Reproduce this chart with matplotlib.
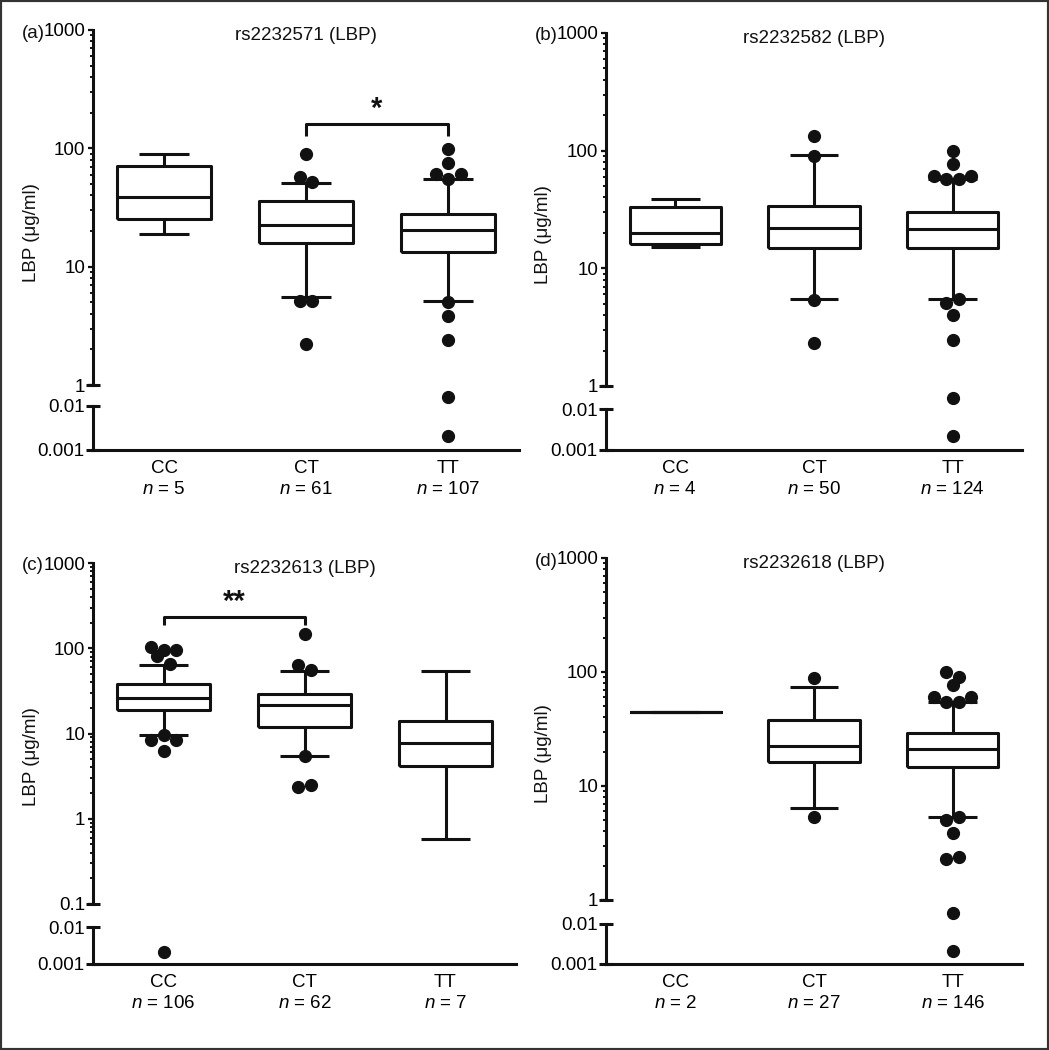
import numpy as np
import matplotlib
matplotlib.use('Agg')
import matplotlib.pyplot as plt
from matplotlib.ticker import FixedLocator, LogLocator, FuncFormatter, NullFormatter, NullLocator
from matplotlib.patches import Rectangle

plt.rcParams['font.family'] = ['Liberation Sans', 'DejaVu Sans']
plt.rcParams['mathtext.fontset'] = 'custom'
plt.rcParams['mathtext.it'] = 'Liberation Sans:italic'
plt.rcParams['mathtext.rm'] = 'Liberation Sans'

genotypes = ['CC', 'CT', 'TT']

# (a) rs2232571
a_n = [5, 61, 107]
a_whislo = [18.7, 5.57, 5.15]
a_q1 = [25.4, 15.8, 13.2]
a_med = [38.5, 22.5, 20.5]
a_q3 = [70.8, 35.8, 27.9]
a_whishi = [89, 50.5, 54.6]
a_out = [[],
         [90, 57, 51.7, 5.15, 5.15, 2.24],
         [99.4, 75, 60.2, 60.2, 55.3, 5.0, 3.85, 2.39, 0.016, 0.0021]]

# (b) rs2232582
b_n = [4, 50, 124]
b_whislo = [15.3, 5.46, 5.53]
b_q1 = [16.1, 15.0, 14.8]
b_med = [19.9, 21.9, 21.6]
b_q3 = [33.4, 34.1, 30.3]
b_whishi = [39.1, 91.4, 56.9]
b_out = [[],
         [134, 90.5, 5.4, 2.34],
         [99.6, 76.6, 61, 61, 56.9, 56.9, 5.5, 5.1, 4.02, 2.46, 0.019, 0.0022]]

# (c) rs2232613
c_n = [106, 62, 7]
c_whislo = [9.6, 5.5, 0.578]
c_q1 = [18.9, 11.9, 4.16]
c_med = [25.9, 21.6, 7.67]
c_q3 = [38.1, 29.0, 14.0]
c_whishi = [63.6, 54.0, 54.5]
c_out = [[104, 96, 95, 81.8, 65.3, 9.6, 8.4, 8.4, 6.3, 0.0021],
         [146, 63.6, 55.6, 5.5, 2.49, 2.34],
         []]

# (d) rs2232618
d_n = [2, 27, 146]
d_whislo = [44.9, 6.37, 5.38]
d_q1 = [44.9, 16.1, 14.6]
d_med = [44.9, 22.6, 21.2]
d_q3 = [44.9, 37.7, 29.4]
d_whishi = [44.9, 73.8, 54.2]
d_out = [[],
         [89, 5.31],
         [99.4, 91, 76.9, 60, 60, 54.9, 54.9, 5.3, 5.0, 3.9, 2.39, 2.27, 0.019, 0.0021]]

titles = ['rs2232571 (LBP)', 'rs2232582 (LBP)', 'rs2232613 (LBP)', 'rs2232618 (LBP)']
letters = ['(a)', '(b)', '(c)', '(d)']
upper_min = [1, 1, 0.1, 1]
# significance: (group i, group j, label) per panel
signif = [(1, 2, '*'), None, (0, 1, '**'), None]

panels = [
    (a_n, a_whislo, a_q1, a_med, a_q3, a_whishi, a_out),
    (b_n, b_whislo, b_q1, b_med, b_q3, b_whishi, b_out),
    (c_n, c_whislo, c_q1, c_med, c_q3, c_whishi, c_out),
    (d_n, d_whislo, d_q1, d_med, d_q3, d_whishi, d_out),
]

# pixel layout: left, right, upper top, upper bottom, lower top, lower bottom
W, H = 1049, 1050
layout = [
    (93, 519, 30, 385, 406, 450),
    (606, 1022, 33, 386, 409, 450),
    (93, 516, 563, 904, 927, 964),
    (606, 1022, 558, 900, 924, 964),
]

k = '#111111'
lw = 2.2
fs = 13.5

fig = plt.figure(figsize=(W / 100, H / 100), dpi=100)


def add_ax(l, r, t, b):
    return fig.add_axes([l / W, 1 - b / H, (r - l) / W, (b - t) / H])


def spread_points(ax_hi, ax_lo, split, xpos, vals, med, step_px=12.5, row_px=8.6):
    # simple row-based spreading of outlier dots (like Prism's scatter)
    xs, ys, axs = [], [], []
    for side in (1, -1):
        sel = [v for v in vals if (v > med) == (side > 0)]
        sel.sort(key=lambda v: -abs(np.log10(v / med)))
        rows = []
        for v in sel:
            ax = ax_hi if v >= split else ax_lo
            py = ax.transData.transform((xpos, v))[1]
            if rows and abs(py - rows[-1][0]) < row_px:
                rows[-1][1].append((v, ax))
            else:
                rows.append([py, [(v, ax)]])
        for py, members in rows:
            n = len(members)
            order = []
            lo, hi = 0, n - 1
            while lo <= hi:
                order.append(lo)
                if hi != lo:
                    order.append(hi)
                lo += 1
                hi -= 1
            for (v, ax), si in zip(members, order):
                ppx = ax.transData.transform((1, 1))[0] - ax.transData.transform((0, 1))[0]
                xs.append(xpos + (si - (n - 1) / 2) * step_px / ppx)
                ys.append(v)
                axs.append(ax)
    return xs, ys, axs


for p, (n, wlo, q1, med, q3, whi, outl) in enumerate(panels):
    l, r, t, b, lt, lb = layout[p]
    ax = add_ax(l, r, t, b)
    axl = add_ax(l, r, lt, lb)

    for a in (ax, axl):
        a.set_yscale('log')
        a.set_xlim(-0.5, 2.5)
        a.spines['top'].set_visible(False)
        a.spines['right'].set_visible(False)
        a.spines['left'].set_linewidth(lw)
        a.spines['bottom'].set_linewidth(lw)
        a.spines['left'].set_color(k)
        a.spines['bottom'].set_color(k)
        a.patch.set_alpha(0)

    ax.set_ylim(upper_min[p], 1000)
    axl.set_ylim(0.001, 0.01)

    stats = []
    for i in range(3):
        stats.append(dict(med=med[i], q1=q1[i], q3=q3[i], whislo=wlo[i], whishi=whi[i], fliers=[]))
    props = dict(color=k, linewidth=lw, solid_capstyle='butt')
    ax.bxp(stats, positions=[0, 1, 2], widths=0.66, capwidths=0.35, showfliers=False,
           boxprops=props, whiskerprops=props, capprops=props,
           medianprops=props, manage_ticks=False)

    # upper axis ticks
    ax.spines['bottom'].set_visible(False)
    ax.xaxis.set_major_locator(NullLocator())
    decades = [10.0 ** e for e in range(int(round(np.log10(upper_min[p]))), 4)]
    ax.yaxis.set_major_locator(FixedLocator(decades))
    ax.yaxis.set_minor_locator(LogLocator(base=10, subs=np.arange(2, 10)))
    ax.yaxis.set_major_formatter(FuncFormatter(lambda v, pos: f'{v:g}'))
    ax.yaxis.set_minor_formatter(NullFormatter())
    ax.tick_params(axis='y', which='major', direction='out', length=3.5, width=1.6,
                   color=k, labelsize=fs, pad=2)
    ax.tick_params(axis='y', which='minor', direction='out', length=2, width=1.4, color=k)
    # longer tick at the break end
    ax.plot([0], [upper_min[p]], marker='_', ms=10, mew=lw, color=k,
            transform=ax.get_yaxis_transform(), clip_on=False)

    # lower axis
    axl.yaxis.set_major_locator(FixedLocator([0.001, 0.01]))
    axl.yaxis.set_minor_locator(NullLocator())
    axl.yaxis.set_major_formatter(FuncFormatter(lambda v, pos: f'{v:g}'))
    axl.tick_params(axis='y', which='major', direction='inout', length=10, width=lw,
                    color=k, labelsize=fs, pad=1)
    axl.set_xticks([0, 1, 2])
    axl.set_xticklabels([f'{g}\n$n$ = {m}' for g, m in zip(genotypes, n)],
                        fontsize=fs, linespacing=1.35)
    axl.tick_params(axis='x', length=0, pad=7)

    # outliers
    for i in range(3):
        if not outl[i]:
            continue
        xs, ys, axs = spread_points(ax, axl, upper_min[p], i, outl[i], med[i])
        for x, y, a in zip(xs, ys, axs):
            a.plot(x, y, 'o', ms=8.5, color=k, mec=k, clip_on=False, zorder=4)

    # significance bracket
    if signif[p]:
        gi, gj, lab = signif[p]
        top = max(max(outl[gi] + [whi[gi]]), max(outl[gj] + [whi[gj]])) * 1.6
        tip = top / 1.25
        ax.plot([gi, gi, gj, gj], [tip, top, top, tip], color=k, lw=lw, solid_capstyle='butt')
        ax.annotate(lab, xy=((gi + gj) / 2, top), xytext=(0, 11), textcoords='offset points',
                    ha='center', va='center', fontsize=21, fontweight='bold', color=k)

    ax.annotate(titles[p], xy=(0.5, 1), xycoords='axes fraction', xytext=(0, -4),
                textcoords='offset points', ha='center', va='center', fontsize=fs, color=k)
    fig.text((l - 71) / W, 1 - (t + 3) / H, letters[p], ha='left', va='center',
             fontsize=fs, color=k)
    fig.text((l - 62) / W, 1 - ((t + lb) / 2 - 7) / H, 'LBP (μg/ml)', rotation=90,
             ha='center', va='center', fontsize=fs, color=k)

fig.add_artist(Rectangle((0, 0), 1, 1, transform=fig.transFigure, fill=False,
                         ec='#333333', lw=3))

fig.savefig('out.png', dpi=100)
